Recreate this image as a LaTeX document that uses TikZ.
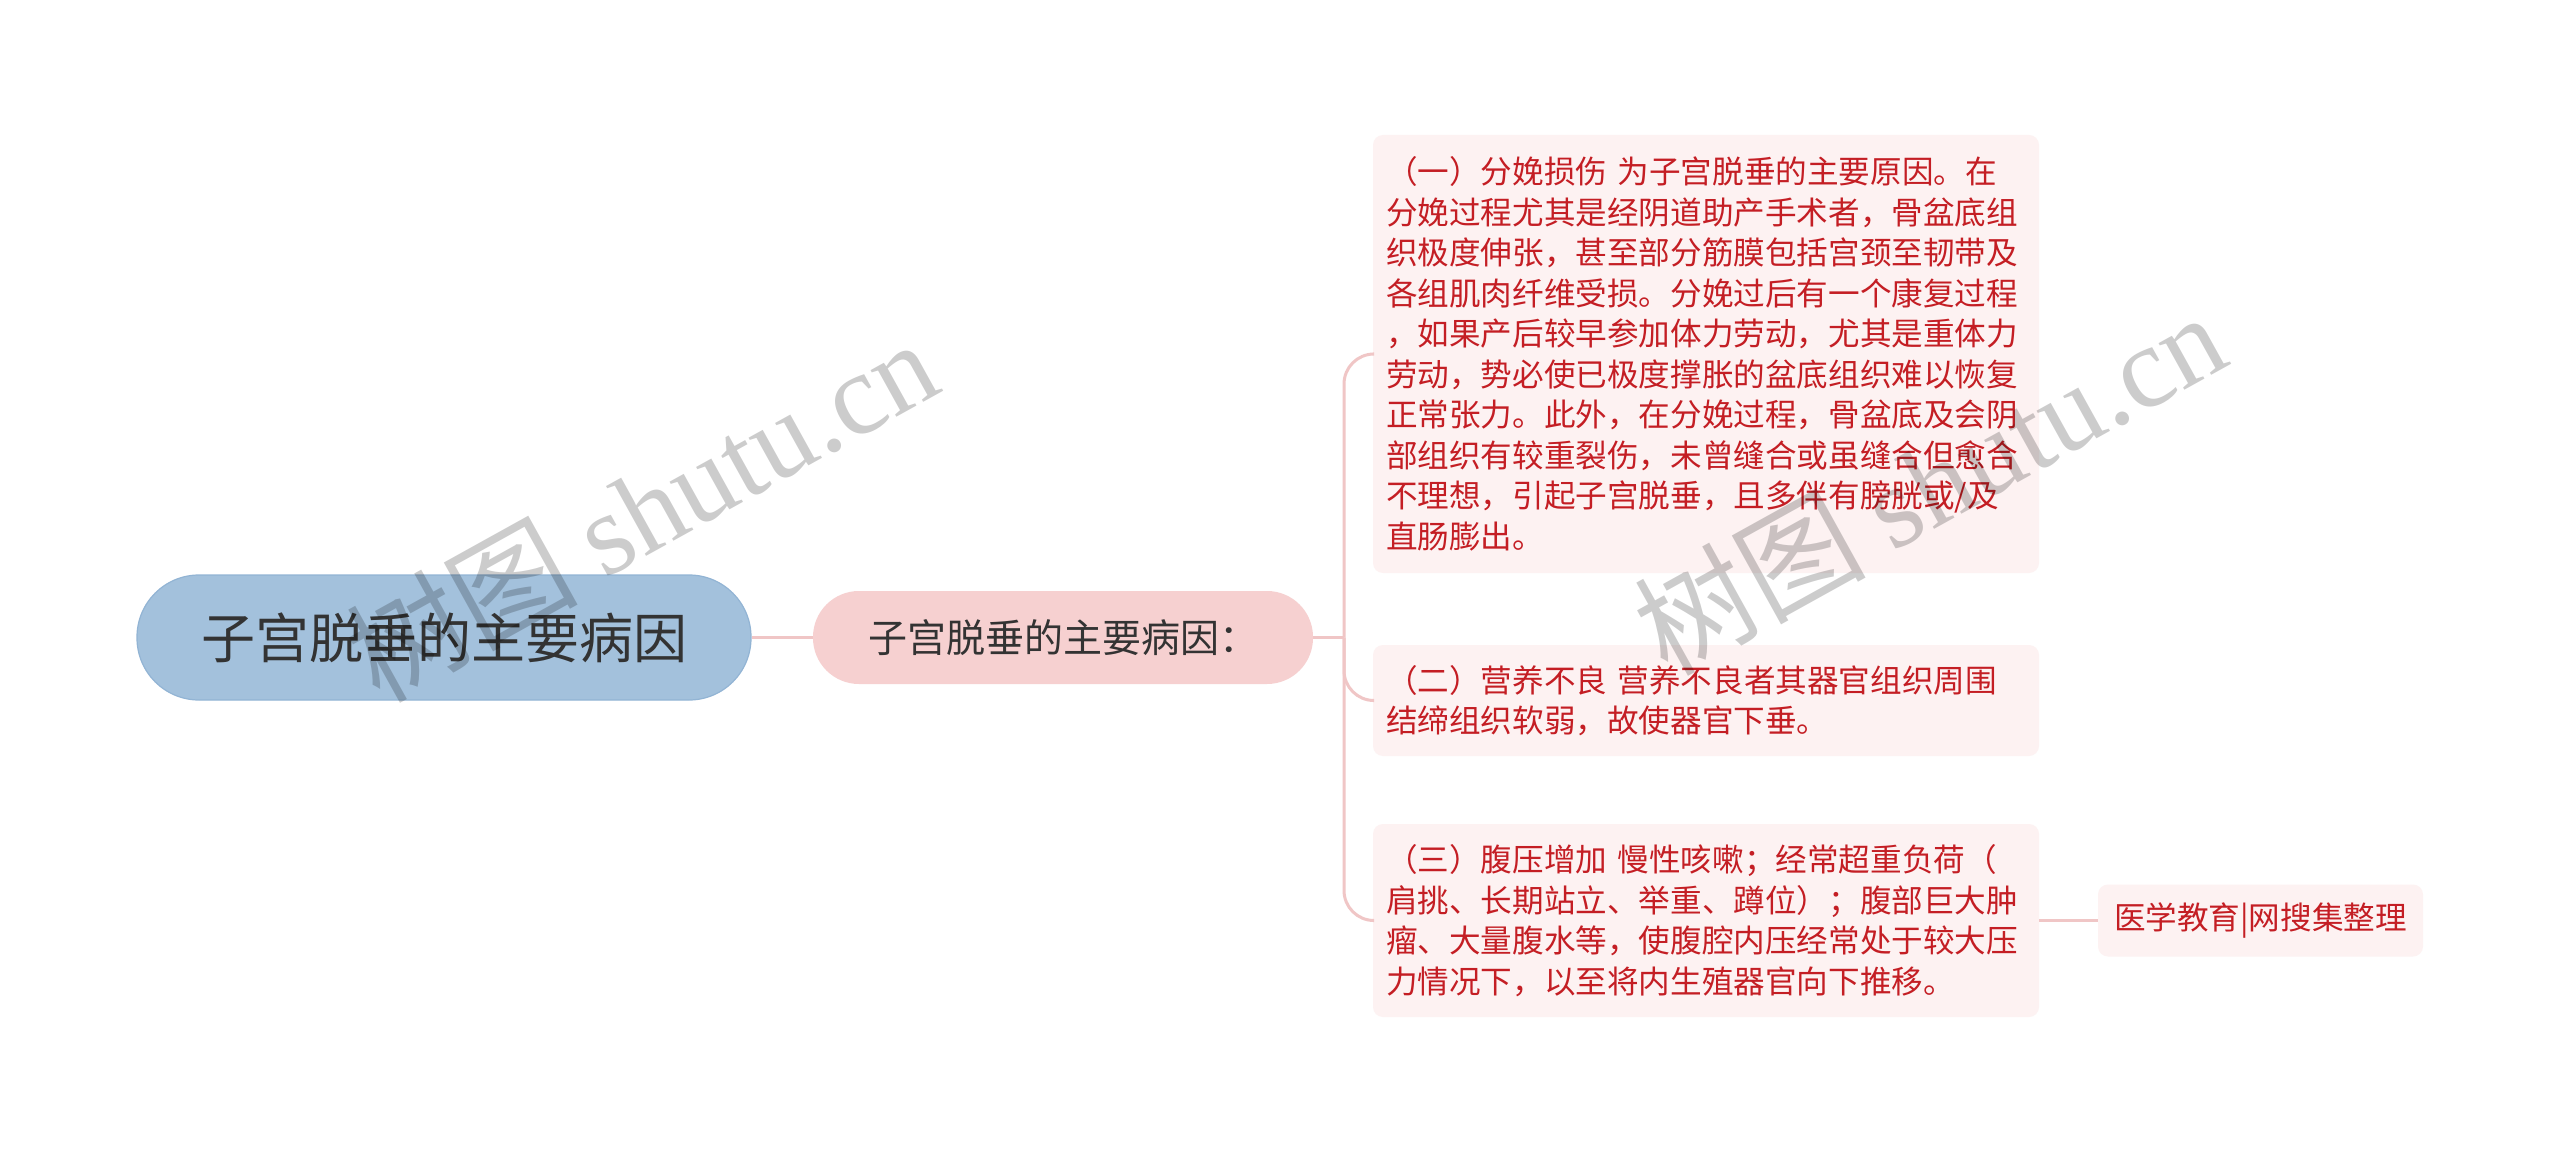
\documentclass[tikz,border=0pt]{standalone}
\usepackage{fontspec}
\setmainfont{Noto Sans CJK SC}
\newfontfamily\wmlatin{Liberation Serif}
\definecolor{rootfill}{HTML}{A3C1DC}
\definecolor{rootline}{HTML}{92B4D4}
\definecolor{subfill}{HTML}{F6D0D0}
\definecolor{leaffill}{HTML}{FDF2F2}
\definecolor{redtext}{HTML}{C41E24}
\definecolor{darktext}{HTML}{333333}
\definecolor{connpink}{HTML}{F0C6C6}
\tikzset{
  rootbox/.style={fill=rootfill, draw=rootline, line width=1.2pt, rounded corners=62pt,
    minimum width=614pt, minimum height=125pt, inner sep=0pt, text=darktext,
    font=\fontsize{54}{60}\selectfont},
  subbox/.style={fill=subfill, rounded corners=46pt, minimum width=500pt, minimum height=93pt,
    inner sep=0pt, text=darktext, font=\fontsize{39}{46}\selectfont},
  childbox/.style={fill=leaffill, rounded corners=10pt, text width=640pt, align=left,
    inner xsep=13pt, inner ysep=0pt, text=redtext, font=\fontsize{31.6}{40.5}\selectfont},
  leafbox/.style={fill=leaffill, rounded corners=10pt, minimum width=325pt, minimum height=72pt,
    inner sep=0pt, text=redtext, font=\fontsize{31.6}{38}\selectfont},
  conn/.style={draw=connpink, line width=3pt},
  wmark/.style={text=black, text opacity=0.2, rotate=29, inner sep=0pt,
    font=\fontsize{116}{120}\selectfont}
}
\begin{document}
\begin{tikzpicture}[x=1pt,y=-1pt]
\useasboundingbox (0,0) rectangle (2560,1155);
\fill[white] (0,0) rectangle (2560,1155);

\node[rootbox] (root) at (444,637.5) {子宫脱垂的主要病因};
\node[subbox] (sub) at (1063,637.5) {子宫脱垂的主要病因：};

\node[childbox, minimum height=438pt] (c1) at (1706,354) {%
（一）分娩损伤 为子宫脱垂的主要原因。在\\
分娩过程尤其是经阴道助产手术者，骨盆底组\\
织极度伸张，甚至部分筋膜包括宫颈至韧带及\\
各组肌肉纤维受损。分娩过后有一个康复过程\\
，如果产后较早参加体力劳动，尤其是重体力\\
劳动，势必使已极度撑胀的盆底组织难以恢复\\
正常张力。此外，在分娩过程，骨盆底及会阴\\
部组织有较重裂伤，未曾缝合或虽缝合但愈合\\
不理想，引起子宫脱垂，且多伴有膀胱或/及\\
直肠膨出。};

\node[childbox, minimum height=111pt] (c2) at (1706,700.5) {%
（二）营养不良 营养不良者其器官组织周围\\
结缔组织软弱，故使器官下垂。};

\node[childbox, minimum height=193pt] (c3) at (1706,920.5) {%
（三）腹压增加 慢性咳嗽；经常超重负荷（\\
肩挑、长期站立、举重、蹲位）；腹部巨大肿\\
瘤、大量腹水等，使腹腔内压经常处于较大压\\
力情况下，以至将内生殖器官向下推移。};

\node[leafbox] (leaf) at (2260.5,920.5) {医学教育|网搜集整理};

\coordinate (j) at (1344,637.5);
\draw[conn] (root.east) -- (sub.west);
\draw[conn] (sub.east) -- (j);
\draw[conn, rounded corners=30pt] (j) -- (j |- c1.west) -- (c1.west);
\draw[conn, rounded corners=30pt] (j) -- (j |- c2.west) -- (c2.west);
\draw[conn, rounded corners=30pt] (j) -- (j |- c3.west) -- (c3.west);
\draw[conn] (c3.east) -- (leaf.west);

\node[wmark] (wm1) at (641,509) {树图 {\wmlatin shutu.cn}};
\node[wmark] (wm2) at (1929,482) {树图 {\wmlatin shutu.cn}};
\end{tikzpicture}
\end{document}
